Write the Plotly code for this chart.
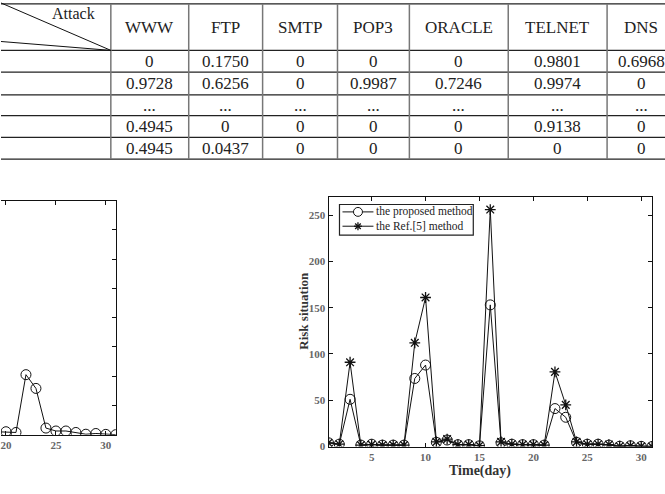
import plotly.graph_objects as go

# ---------------- data ----------------
attack_cols = ["WWW", "FTP", "SMTP", "POP3", "ORACLE", "TELNET", "DNS"]
row_1 = ["0", "0.1750", "0", "0", "0", "0.9801", "0.6968"]
row_2 = ["0.9728", "0.6256", "0", "0.9987", "0.7246", "0.9974", "0"]
row_3 = ["...", "...", "...", "...", "...", "...", "..."]
row_4 = ["0.4945", "0", "0", "0", "0", "0.9138", "0"]
row_5 = ["0.4945", "0.0437", "0", "0", "0", "0", "0"]
table_rows = [row_1, row_2, row_3, row_4, row_5]
corner_label = "Attack"

days = [1, 2, 3, 4, 5, 6, 7, 8, 9, 10, 11, 12, 13, 14, 15, 16,
        17, 18, 19, 20, 21, 22, 23, 24, 25, 26, 27, 28, 29, 30, 31]
proposed = [4, 2.5, 51, 1.5, 2.5, 1.5, 1.5, 1.5, 73.5, 88, 4.5, 7, 2, 2, 0.7, 153,
            4, 2.5, 2, 2, 1.5, 41, 31.6, 4.5, 2.5, 2.5, 1.5, 0.3, 0.8, 0.2, 0]
ref5 = [4, 2.5, 91, 1.5, 2, 1.5, 1.5, 1.5, 112, 161, 5, 8, 2, 2, 1, 256,
        5, 2.5, 2, 2, 1.5, 80.6, 45, 5, 2.5, 2.5, 2, 0.3, 0.8, 0.2, 0]
name_proposed = "the proposed method"
name_ref = "the Ref.[5] method"

# ---------------- layout helpers ----------------
W, H = 665, 494
def px(x):
    return x / W
def py(y):
    return 1 - y / H

col_edges = [0, 110, 188, 262, 337, 409, 508, 607, 675]
row_edges = [4, 51, 73, 96, 117, 139, 161]
SERIF = "Liberation Serif"
TXT = "#222222"
INK = "#111111"

fig = go.Figure()

# left (cropped) chart: proposed method only
fig.add_trace(go.Scatter(
    x=days, y=proposed, mode="lines+markers", showlegend=False,
    line=dict(color=INK, width=1),
    marker=dict(symbol="circle-open", size=10, color=INK, line=dict(width=1)),
    xaxis="x", yaxis="y"))

# right chart
fig.add_trace(go.Scatter(
    x=days, y=proposed, mode="lines+markers", name=name_proposed, showlegend=False,
    line=dict(color=INK, width=1),
    marker=dict(symbol="circle-open", size=10, color=INK, line=dict(width=1)),
    xaxis="x2", yaxis="y2"))
fig.add_trace(go.Scatter(
    x=days, y=ref5, mode="lines+markers", name=name_ref, showlegend=False,
    line=dict(color=INK, width=1),
    marker=dict(symbol="asterisk-open", size=9, color=INK, line=dict(width=1.3)),
    xaxis="x2", yaxis="y2"))

# ---------------- table (shapes + annotations) ----------------
shapes = []
annotations = []
for y in row_edges:
    shapes.append(dict(type="line", xref="paper", yref="paper",
                       x0=0, x1=1, y0=py(y), y1=py(y),
                       line=dict(color="#222222", width=1.2)))
for x in col_edges[1:]:
    shapes.append(dict(type="line", xref="paper", yref="paper",
                       x0=px(x), x1=px(x), y0=py(row_edges[0]), y1=py(row_edges[-1]),
                       line=dict(color="#777777", width=1.5)))
# diagonal lines in corner cell
shapes.append(dict(type="line", xref="paper", yref="paper",
                   x0=0, y0=py(3), x1=px(110), y1=py(51),
                   line=dict(color=INK, width=1)))
shapes.append(dict(type="line", xref="paper", yref="paper",
                   x0=0, y0=py(42), x1=px(110), y1=py(51),
                   line=dict(color=INK, width=1)))

annotations.append(dict(text=corner_label, x=px(73), y=py(14), xref="paper", yref="paper",
                        showarrow=False, xanchor="center", yanchor="middle",
                        font=dict(family=SERIF, size=16, color=TXT)))
for j, c in enumerate(attack_cols):
    cx = (col_edges[j + 1] + col_edges[j + 2]) / 2
    annotations.append(dict(text=c, x=px(cx), y=py(28), xref="paper", yref="paper",
                            showarrow=False, xanchor="center", yanchor="middle",
                            font=dict(family=SERIF, size=17, color=TXT)))
for i, row in enumerate(table_rows):
    cy = (row_edges[i + 1] + row_edges[i + 2]) / 2
    for j, v in enumerate(row):
        cx = (col_edges[j + 1] + col_edges[j + 2]) / 2
        annotations.append(dict(text=v, x=px(cx), y=py(cy), xref="paper", yref="paper",
                                showarrow=False, xanchor="center", yanchor="middle",
                                font=dict(family=SERIF, size=17, color=TXT)))

# axis titles of right chart
annotations.append(dict(text="<b>Time(day)</b>", x=px(480), y=py(477), xref="paper", yref="paper",
                        showarrow=False, xanchor="center", yanchor="middle",
                        font=dict(family=SERIF, size=14, color="#333333")))
annotations.append(dict(text="<b>Risk situation</b>", x=px(303), y=py(315), xref="paper", yref="paper",
                        showarrow=False, xanchor="center", yanchor="middle", textangle=-90,
                        font=dict(family=SERIF, size=13, color="#333333")))

# ---------------- compact legend (box, samples, labels) ----------------
leg_x0, leg_x1, leg_y0, leg_y1 = 339, 473, 207, 238
shapes.append(dict(type="rect", xref="paper", yref="paper",
                   x0=px(leg_x0), x1=px(leg_x1), y0=py(leg_y1), y1=py(leg_y0),
                   fillcolor="white", line=dict(color="#222222", width=1.2), layer="above"))
entries = [(name_proposed, 214.5, "circle"), (name_ref, 229, "star")]
for label, ey, kind in entries:
    shapes.append(dict(type="line", xref="paper", yref="paper",
                       x0=px(342), x1=px(373), y0=py(ey), y1=py(ey),
                       line=dict(color=INK, width=1), layer="above"))
    if kind == "circle":
        shapes.append(dict(type="circle", xref="paper", yref="paper",
                           x0=px(353), x1=px(362), y0=py(ey + 4.5), y1=py(ey - 4.5),
                           fillcolor="white", line=dict(color=INK, width=1), layer="above"))
    else:
        r = 4
        for dx, dy in [(r, 0), (0, r), (0.7 * r, 0.7 * r), (0.7 * r, -0.7 * r)]:
            shapes.append(dict(type="line", xref="paper", yref="paper",
                               x0=px(357.5 - dx), x1=px(357.5 + dx),
                               y0=py(ey - dy), y1=py(ey + dy),
                               line=dict(color=INK, width=1.3), layer="above"))
    annotations.append(dict(text=label, x=px(374), y=py(ey), xref="paper", yref="paper",
                            showarrow=False, xanchor="left", yanchor="middle",
                            font=dict(family=SERIF, size=11.5, color="#222222")))

tickfont = dict(family=SERIF, size=11, color="#666666", weight="bold")
axis_common = dict(showgrid=False, zeroline=False, showline=True, linecolor=INK,
                   linewidth=1, ticks="inside", ticklen=4, tickcolor=INK,
                   tickfont=tickfont, ticklabeloverflow="allow")

fig.update_layout(
    width=W, height=H, autosize=False,
    margin=dict(l=0, r=0, t=0, b=0),
    paper_bgcolor="white", plot_bgcolor="white",
    showlegend=False,
    shapes=shapes, annotations=annotations,
    xaxis=dict(domain=[0, px(115)], range=[19.5, 31], tickvals=[20, 25, 30],
               mirror="ticks", anchor="y", **axis_common),
    yaxis=dict(domain=[py(440), py(203)], range=[0, 160], dtick=20, side="right",
               showticklabels=False, mirror=False, anchor="x", **axis_common),
    xaxis2=dict(domain=[px(328), px(652)], range=[1, 31], tickvals=[5, 10, 15, 20, 25, 30],
                mirror="ticks", anchor="y2", **axis_common),
    yaxis2=dict(domain=[py(452), py(199)], range=[0, 270], tickvals=[0, 50, 100, 150, 200, 250],
                mirror="ticks", anchor="x2", **axis_common),
)

fig.write_html("out.html")
